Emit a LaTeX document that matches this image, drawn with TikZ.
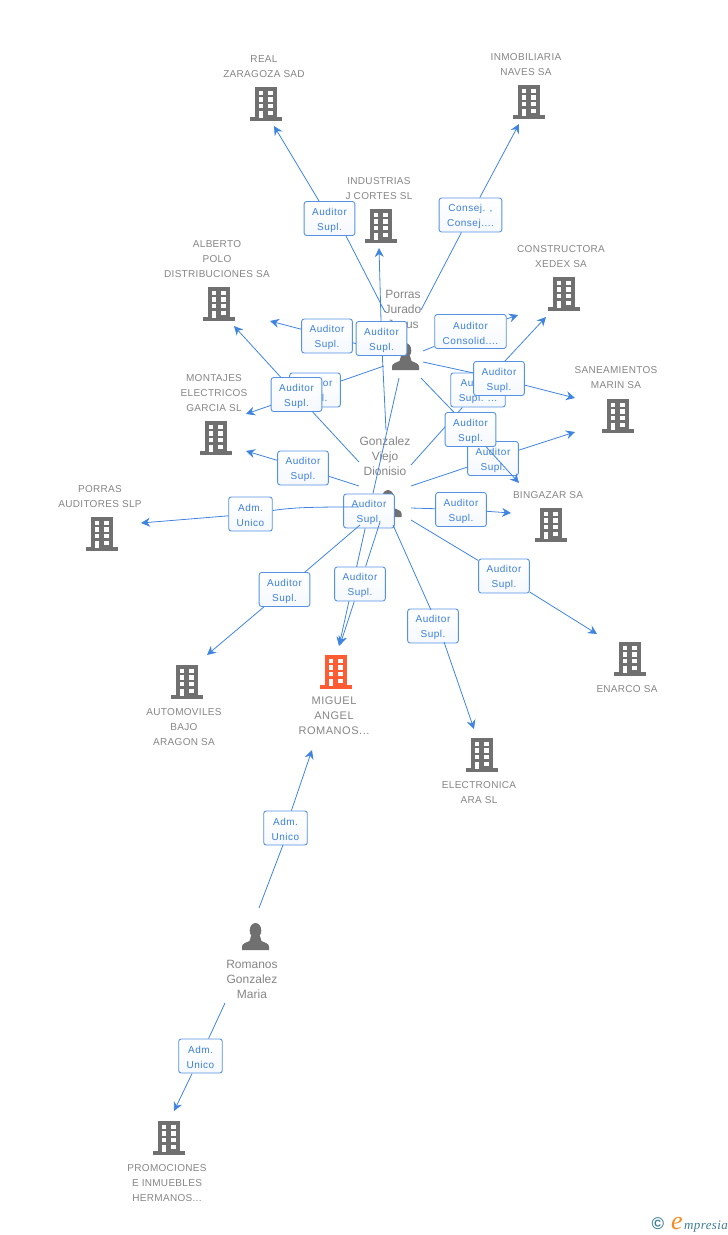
\documentclass[tikz,border=0pt]{standalone}
\usepackage{fontspec}
\setmainfont{Liberation Sans}
\newfontfamily\spacedfont[LetterSpace=5]{Liberation Sans}
\newfontfamily\firmfont[LetterSpace=3]{Liberation Sans}
\newfontfamily\logofont[LetterSpace=3]{Liberation Serif}
\usetikzlibrary{arrows.meta}
\definecolor{linkblue}{HTML}{3F84E0}
\definecolor{textblue}{HTML}{3C7FD8}
\definecolor{boxblue}{HTML}{5592E4}
\definecolor{icongrey}{HTML}{707070}
\definecolor{namegrey}{HTML}{858585}
\definecolor{mainorange}{HTML}{FF5C33}
\definecolor{logoteal}{HTML}{3D7D96}
\definecolor{logoorange}{HTML}{F58A1F}
\tikzset{
	link/.style={draw=linkblue, line width=0.8pt},
	linkarrow/.style={link, -{Stealth[length=9pt,width=9pt,inset=3pt]}},
	rolebox/.style={draw=boxblue, line width=0.9pt, rounded corners=2.5pt, top color=white, bottom color=boxblue!6,
		text=textblue, align=center, inner xsep=8pt, inner ysep=0pt, minimum height=34pt,
		font=\spacedfont\fontsize{10}{15}\selectfont, text height=26pt},
	firmname/.style={text=namegrey, align=center, inner sep=0pt, yshift=-0.7pt, font=\firmfont\fontsize{10}{15}\selectfont},
	mainname/.style={firmname, font=\spacedfont\fontsize{11}{15}\selectfont},
	personname/.style={text=namegrey, align=center, inner sep=0pt, font=\fontsize{12}{15}\selectfont},
	building/.pic={
		\fill[pic actions] (-11.2,0) rectangle (11.2,30);
		\fill[pic actions] (-15.7,30) rectangle (15.7,34);
		\foreach \wy in {3.7,10.4,17,23.7} {
			\fill[white] (-7.2,\wy) rectangle (-2.8,\wy+4.2);
			\fill[white] (2.4,\wy) rectangle (6.9,\wy+4.2);
		}
		\fill[white] (-7.2,23.7) rectangle (-2.8,31);
	},
	person/.pic={
		\fill[pic actions] (0,7.5) ellipse (5.8 and 7.5);
		\fill[pic actions] (-13.5,27) -- (-13.5,23.5) .. controls (-13.5,20.5) and (-9,19.5) .. (-6,18)
			-- (-4.5,13) -- (4.5,13) -- (6,18) .. controls (9,19.5) and (13.5,20.5) .. (13.5,23.5) -- (13.5,27) -- cycle;
	},
}
\begin{document}
\begin{tikzpicture}[x=1pt, y=-1pt]
	\useasboundingbox (0,0) rectangle (728,1235);

	%%%%% firms %%%%%
	\pic[fill=icongrey] at (266,87) {building};
	\node[firmname] (real) at (264,65.5) {REAL\\ZARAGOZA SAD};
	\pic[fill=icongrey] at (529,85) {building};
	\node[firmname] (inmobiliaria) at (526,63.5) {INMOBILIARIA\\NAVES SA};
	\pic[fill=icongrey] at (381,209) {building};
	\node[firmname] (industrias) at (379,187.5) {INDUSTRIAS\\J CORTES SL};
	\pic[fill=icongrey] at (219,287) {building};
	\node[firmname] (alberto) at (217,258) {ALBERTO\\POLO\\DISTRIBUCIONES SA};
	\pic[fill=icongrey] at (564,277) {building};
	\node[firmname] (constructora) at (561,255.5) {CONSTRUCTORA\\XEDEX SA};
	\pic[fill=icongrey] at (618,399) {building};
	\node[firmname] (saneamientos) at (616,376.5) {SANEAMIENTOS\\MARIN SA};
	\pic[fill=icongrey] at (216,421) {building};
	\node[firmname] (montajes) at (214,392) {MONTAJES\\ELECTRICOS\\GARCIA SL};
	\pic[fill=icongrey] at (102,517) {building};
	\node[firmname] (porrasaud) at (100,495.5) {PORRAS\\AUDITORES SLP};
	\pic[fill=icongrey] at (551,508) {building};
	\node[firmname] (bingazar) at (548,494) {BINGAZAR SA};
	\pic[fill=icongrey] at (630,642) {building};
	\node[firmname] (enarco) at (627,688) {ENARCO SA};
	\pic[fill=icongrey] at (187,665) {building};
	\node[firmname] (automoviles) at (184,726) {AUTOMOVILES\\BAJO\\ARAGON SA};
	\pic[fill=mainorange] at (336,655) {building};
	\node[mainname] (miguel) at (334,715) {MIGUEL\\ANGEL\\ROMANOS...};
	\pic[fill=icongrey] at (482,738) {building};
	\node[firmname] (electronica) at (479,791.5) {ELECTRONICA\\ARA SL};
	\pic[fill=icongrey] at (169,1121) {building};
	\node[firmname] (promociones) at (167,1182) {PROMOCIONES\\E INMUEBLES\\HERMANOS...};

	%%%%% persons %%%%%
	\node[personname] (porras) at (403,309) {Porras\\Jurado\\Jesus};
	\pic[fill=icongrey] at (405.5,343) {person};
	\node[personname] (gonzalez) at (385,456) {Gonzalez\\Viejo\\Dionisio};
	\pic[fill=icongrey] at (388,490) {person};
	\node[personname] (romanos) at (252,979) {Romanos\\Gonzalez\\Maria};
	\pic[fill=icongrey] at (255.5,923) {person};

	%%%%% links %%%%%
	\coordinate (gsane) at (411,486); \coordinate (tsane) at (575,432);
	\node[rolebox] (lgsane) at (493,458.5) {Auditor\\Supl.};
	\draw[link] (gsane) -- (lgsane); \draw[linkarrow] (lgsane) -- (tsane);

	\coordinate (gcons) at (411,465); \coordinate (tcons) at (546,317);
	\node[rolebox] (lgcons) at (478,390) {Auditor\\Supl. ...};
	\draw[link] (gcons) -- (lgcons); \draw[linkarrow] (lgcons) -- (tcons);

	\coordinate (preal) at (385,312); \coordinate (jreal) at (346,236); \coordinate (treal) at (274,126);
	\node[rolebox] (lpreal) at (329.5,218.5) {Auditor\\Supl.};
	\draw[link] (preal) -- (jreal); \draw[linkarrow] (lpreal) -- (treal);

	\coordinate (pinmo) at (421,310); \coordinate (tinmo) at (519,124);
	\node[rolebox] (lpinmo) at (470.5,215) {Consej. ,\\Consej....};
	\draw[link] (pinmo) -- (lpinmo); \draw[linkarrow] (lpinmo) -- (tinmo);

	\coordinate (pcons) at (423,351); \coordinate (tconsb) at (518,315);
	\node[rolebox] (lpcons) at (470.5,331.5) {Auditor\\Consolid....};
	\draw[link] (pcons) -- (lpcons); \draw[linkarrow] (lpcons) -- (tconsb);

	\coordinate (palberto) at (384,351); \coordinate (talberto) at (270,321);
	\node[rolebox] (lpalberto) at (327,336) {Auditor\\Supl.};
	\draw[link] (palberto) -- (lpalberto); \draw[linkarrow] (lpalberto) -- (talberto);

	\coordinate (pmont) at (384,366); \coordinate (tmont) at (246,414);
	\node[rolebox] (lpmont) at (315,390) {Auditor\\Supl.};
	\draw[link] (pmont) -- (lpmont); \draw[linkarrow] (lpmont) -- (tmont);

	\coordinate (psane) at (423,362); \coordinate (tsaneb) at (575,398);
	\node[rolebox] (lpsane) at (499,378.5) {Auditor\\Supl.};
	\draw[link] (psane) -- (lpsane); \draw[linkarrow] (lpsane) -- (tsaneb);

	\coordinate (pbing) at (421,378); \coordinate (tbing) at (519,483);
	\node[rolebox] (lpbing) at (470.5,429.5) {Auditor\\Supl.};
	\draw[link] (pbing) -- (lpbing); \draw[linkarrow] (lpbing) -- (tbing);

	\coordinate (pmig) at (399,378); \coordinate (tmig) at (339,646);
	\node[rolebox] (lpmig) at (369,511) {Auditor\\Supl.};
	\draw[link] (pmig) -- (lpmig); \draw[linkarrow] (lpmig) -- (tmig);

	\coordinate (gind) at (386,430); \coordinate (tind) at (379,248);
	\node[rolebox] (lgind) at (381.5,338.5) {Auditor\\Supl.};
	\draw[link] (gind) -- (lgind); \draw[linkarrow] (lgind) -- (tind);

	\coordinate (galb) at (359,462); \coordinate (talb) at (234,326);
	\node[rolebox] (lgalb) at (296.5,394.5) {Auditor\\Supl.};
	\draw[link] (galb) -- (lgalb); \draw[linkarrow] (lgalb) -- (talb);

	\coordinate (gmont) at (359,486); \coordinate (tmontb) at (246,451);
	\node[rolebox] (lgmont) at (303,468) {Auditor\\Supl.};
	\draw[link] (gmont) -- (lgmont); \draw[linkarrow] (lgmont) -- (tmontb);

	\coordinate (gpor) at (359,507); \coordinate (tpor) at (141,523);
	\node[rolebox] (lgpor) at (250.5,514) {Adm.\\Unico};
	\draw[link] (gpor) .. controls (320,507) and (295,507) .. (lgpor); \draw[linkarrow] (lgpor) -- (tpor);

	\coordinate (gauto) at (360,525); \coordinate (tauto) at (207,655);
	\node[rolebox] (lgauto) at (284.5,589.5) {Auditor\\Supl.};
	\draw[link] (gauto) -- (lgauto); \draw[linkarrow] (lgauto) -- (tauto);

	\coordinate (gmig) at (380,522); \coordinate (tmigb) at (340,645);
	\node[rolebox] (lgmig) at (360,584) {Auditor\\Supl.};
	\draw[link] (gmig) -- (lgmig); \draw[linkarrow] (lgmig) -- (tmigb);

	\coordinate (gelec) at (393,525); \coordinate (jelec) at (431,610); \coordinate (kelec) at (444,642); \coordinate (telec) at (474,729);
	\node[rolebox] (lgelec) at (433,626) {Auditor\\Supl.};
	\draw[link] (gelec) -- (jelec); \draw[linkarrow] (kelec) -- (telec);

	\coordinate (genar) at (411,520); \coordinate (tenar) at (597,634);
	\node[rolebox] (lgenar) at (504,576) {Auditor\\Supl.};
	\draw[link] (genar) -- (lgenar); \draw[linkarrow] (lgenar) -- (tenar);

	\coordinate (gbing) at (411,508); \coordinate (tbingb) at (511,513);
	\node[rolebox] (lgbing) at (461,509.5) {Auditor\\Supl.};
	\draw[link] (gbing) -- (lgbing); \draw[linkarrow] (lgbing) -- (tbingb);

	\coordinate (rmig) at (259,908); \coordinate (jmig) at (283,845); \coordinate (tmigc) at (312,750);
	\node[rolebox] (lrmig) at (285.5,828) {Adm.\\Unico};
	\draw[link] (rmig) -- (jmig); \draw[linkarrow] (lrmig) -- (tmigc);

	\coordinate (rprom) at (225,1003); \coordinate (tprom) at (174,1111);
	\node[rolebox] (lrprom) at (200.5,1056) {Adm.\\Unico};
	\draw[link] (rprom) -- (lrprom); \draw[linkarrow] (lrprom) -- (tprom);

	%%%%% logo %%%%%
	\node[text=logoteal, inner sep=0pt, font=\bfseries\fontsize{17}{17}\selectfont] (copyr) at (658,1224) {©};
	\node[anchor=base west, text=logoorange, inner sep=0pt, font=\logofont\itshape\fontsize{26}{26}\selectfont] (logoe) at (671,1229) {e};
	\node[anchor=base west, text=logoteal, inner sep=0pt, font=\logofont\itshape\fontsize{13}{13}\selectfont] (logotext) at (684,1229) {mpresia};
\end{tikzpicture}
\end{document}
